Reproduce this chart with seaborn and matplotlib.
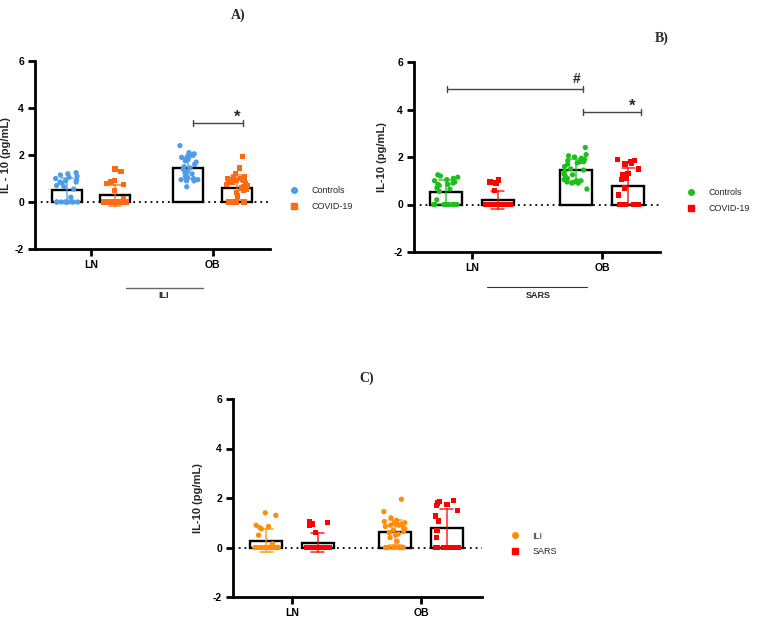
import numpy as np
import pandas as pd
import matplotlib
matplotlib.use("Agg")
import matplotlib.pyplot as plt
import seaborn as sns
from matplotlib.lines import Line2D

sns.set_style("ticks")
plt.rcParams["font.family"] = ["Liberation Sans", "DejaVu Sans"]
plt.rcParams["axes.unicode_minus"] = False

groups = ["LN", "OB"]

controls_ln = [0, 0, 0, 0, 0, 0, 0, 0, 0, 0, 0.20, 0.55, 0.65, 0.70, 0.80, 0.85, 0.85,
               0.90, 0.95, 1.00, 1.05, 1.10, 1.15, 1.20, 1.25]
controls_ob = [2.40, 2.10, 2.05, 2.00, 1.95, 1.90, 1.85, 1.80, 1.80, 1.75, 1.70, 1.60,
               1.50, 1.45, 1.40, 1.30, 1.25, 1.20, 1.10, 1.05, 1.00, 1.00, 0.95, 0.95,
               0.90, 0.90, 0.65]
ili_ln = [0, 0, 0, 0, 0, 0, 0, 0, 0, 0, 0, 0, 0, 0, 0, 0, 0.15, 0.50, 0.75, 0.80, 0.85,
          0.90, 1.30, 1.40]
ili_ob = [0, 0, 0, 0, 0, 0, 0, 0, 0, 0.25, 0.40, 0.50, 0.55, 0.60, 0.65, 0.70, 0.75,
          0.80, 0.85, 0.90, 0.90, 0.95, 0.95, 1.00, 1.00, 1.05, 1.10, 1.20, 1.45, 1.95]
sars_ln = [0, 0, 0, 0, 0, 0, 0, 0, 0, 0, 0, 0, 0, 0, 0, 0, 0, 0, 0.60, 0.90, 0.95,
           1.00, 1.05]
sars_ob = [0, 0, 0, 0, 0, 0, 0, 0, 0, 0.40, 0.70, 1.05, 1.10, 1.25, 1.30, 1.50, 1.70,
           1.75, 1.80, 1.85, 1.90]


def make_df(name_a, a_ln, a_ob, name_b, b_ln, b_ob):
    rows = []
    for name, ln, ob in [(name_a, a_ln, a_ob), (name_b, b_ln, b_ob)]:
        for g, vals in zip(groups, [ln, ob]):
            for v in vals:
                rows.append({"group": g, "series": name, "value": v})
    return pd.DataFrame(rows)


dfA = make_df("Controls", controls_ln, controls_ob, "COVID-19", ili_ln, ili_ob)
dfB = make_df("Controls", controls_ln, controls_ob, "COVID-19", sars_ln, sars_ob)
dfC = make_df("ILI", ili_ln, ili_ob, "SARS", sars_ln, sars_ob)

W, H = 759, 620
fig = plt.figure(figsize=(W / 100, H / 100), dpi=100)


def px_axes(l, t, r, b):
    return fig.add_axes([l / W, 1 - b / H, (r - l) / W, (b - t) / H])


axA = px_axes(35, 61, 270, 249)
axB = px_axes(414, 62, 660, 252)
axC = px_axes(233, 399, 482, 597)

np.random.seed(7)


def panel(ax, df, names, colors, markers, xlim, ylabel, label_x):
    pal = dict(zip(names, colors))
    ax.axhline(0, color="black", ls=(0, (1, 2.2)), lw=1.3, zorder=0)
    sns.barplot(data=df, x="group", y="value", hue="series", order=groups,
                hue_order=names, estimator="mean", errorbar=None, width=0.8,
                gap=0.385, palette={n: "white" for n in names}, edgecolor="black",
                linewidth=1.7, legend=False, ax=ax, zorder=1)
    for n, m in zip(names, markers):
        sns.stripplot(data=df[df["series"] == n], x="group", y="value", hue="series",
                      order=groups, hue_order=names, dodge=True, jitter=0.19,
                      palette=pal, marker=m, size=3.8, linewidth=0, legend=False,
                      ax=ax, zorder=3)
    sns.pointplot(data=df, x="group", y="value", hue="series", order=groups,
                  hue_order=names, estimator="mean", errorbar="sd", dodge=0.4,
                  palette=pal, marker="", linestyle="none", capsize=0.1,
                  err_kws={"linewidth": 1.1, "alpha": 0.85}, legend=False, ax=ax)
    ax.set_xlim(*xlim)
    ax.set_ylim(-2, 6)
    ax.set_yticks([-2, 0, 2, 4, 6])
    ax.set_xlabel("")
    ax.set_ylabel(ylabel, fontsize=8, fontweight="bold")
    ax.yaxis.set_label_coords(label_x, 0.5)
    for s in ["top", "right"]:
        ax.spines[s].set_visible(False)
    for s in ["left", "bottom"]:
        ax.spines[s].set_linewidth(2)
        ax.spines[s].set_color("black")
    ax.tick_params(width=2, length=5, labelsize=7.5, colors="black", pad=3)
    for lab in ax.get_xticklabels() + ax.get_yticklabels():
        lab.set_fontweight("bold")
    ax.set_facecolor("none")
    return pal


def legend(pal, names, markers, left_px, cy_px):
    handles = [Line2D([], [], ls="none", marker=m, color=pal[n], markersize=4)
               for n, m in zip(names, markers)]
    fig.legend(handles, names, loc="center left",
               bbox_to_anchor=(left_px / W, 1 - cy_px / H), frameon=False,
               fontsize=6.5, handlelength=1.0, handletextpad=1.4,
               labelspacing=0.75, borderpad=0, borderaxespad=0)


def bracket(ax, x1, x2, y, text, tx, ty, size=11):
    ax.plot([x1, x2], [y, y], color="#444444", lw=1, clip_on=False)
    for x in (x1, x2):
        ax.plot([x, x], [y - 0.14, y + 0.14], color="#444444", lw=1, clip_on=False)
    ax.text(tx, ty, text, fontsize=size, fontweight="bold", ha="center", va="center")


nA = ["Controls", "COVID-19"]
palA = panel(axA, dfA, nA, ["#4F9CEB", "#FF6A10"], ["o", "s"], (-0.46, 1.47),
             "IL - 10 (pg/mL)", -0.102)
legend(palA, nA, ["o", "s"], 289.5, 198.5)
bracket(axA, 0.84, 1.25, 3.36, "*", 1.2, 3.62, size=12)

nB = ["Controls", "COVID-19"]
palB = panel(axB, dfB, nB, ["#1DBF1D", "#FF0000"], ["o", "s"], (-0.446, 1.446),
             "IL-10 (pg/mL)", -0.11)
legend(palB, nB, ["o", "s"], 686.5, 200.5)
bracket(axB, -0.19, 0.854, 4.87, "#", 0.805, 5.3, size=10)
bracket(axB, 0.85, 1.30, 3.9, "*", 1.233, 4.15, size=12)

nC = ["ILI", "SARS"]
palC = panel(axC, dfC, nC, ["#FF8C0A", "#FF0000"], ["o", "s"], (-0.457, 1.473),
             "IL-10 (pg/mL)", -0.12)
legend(palC, nC, ["o", "s"], 510.5, 544)

# group annotations below panels A and B
fig.add_artist(Line2D([126 / W, 203 / W], [1 - 288 / H] * 2, color="#666666", lw=1))
fig.text(164 / W, 1 - 296 / H, "ILI", fontsize=6.5, fontweight="bold", ha="center",
         va="center")
fig.add_artist(Line2D([487 / W, 587 / W], [1 - 287 / H] * 2, color="#333333", lw=0.8))
fig.text(538 / W, 1 - 296 / H, "SARS", fontsize=6.5, fontweight="bold", ha="center",
         va="center")

serif = ["Liberation Serif", "DejaVu Serif"]
fig.text(238 / W, 1 - 15 / H, "A)", fontsize=10, fontweight="bold", family=serif,
         ha="center", va="center")
fig.text(662 / W, 1 - 38 / H, "B)", fontsize=10, fontweight="bold", family=serif,
         ha="center", va="center")
fig.text(367 / W, 1 - 378 / H, "C)", fontsize=10, fontweight="bold", family=serif,
         ha="center", va="center")

fig.savefig("out.png", dpi=100)
